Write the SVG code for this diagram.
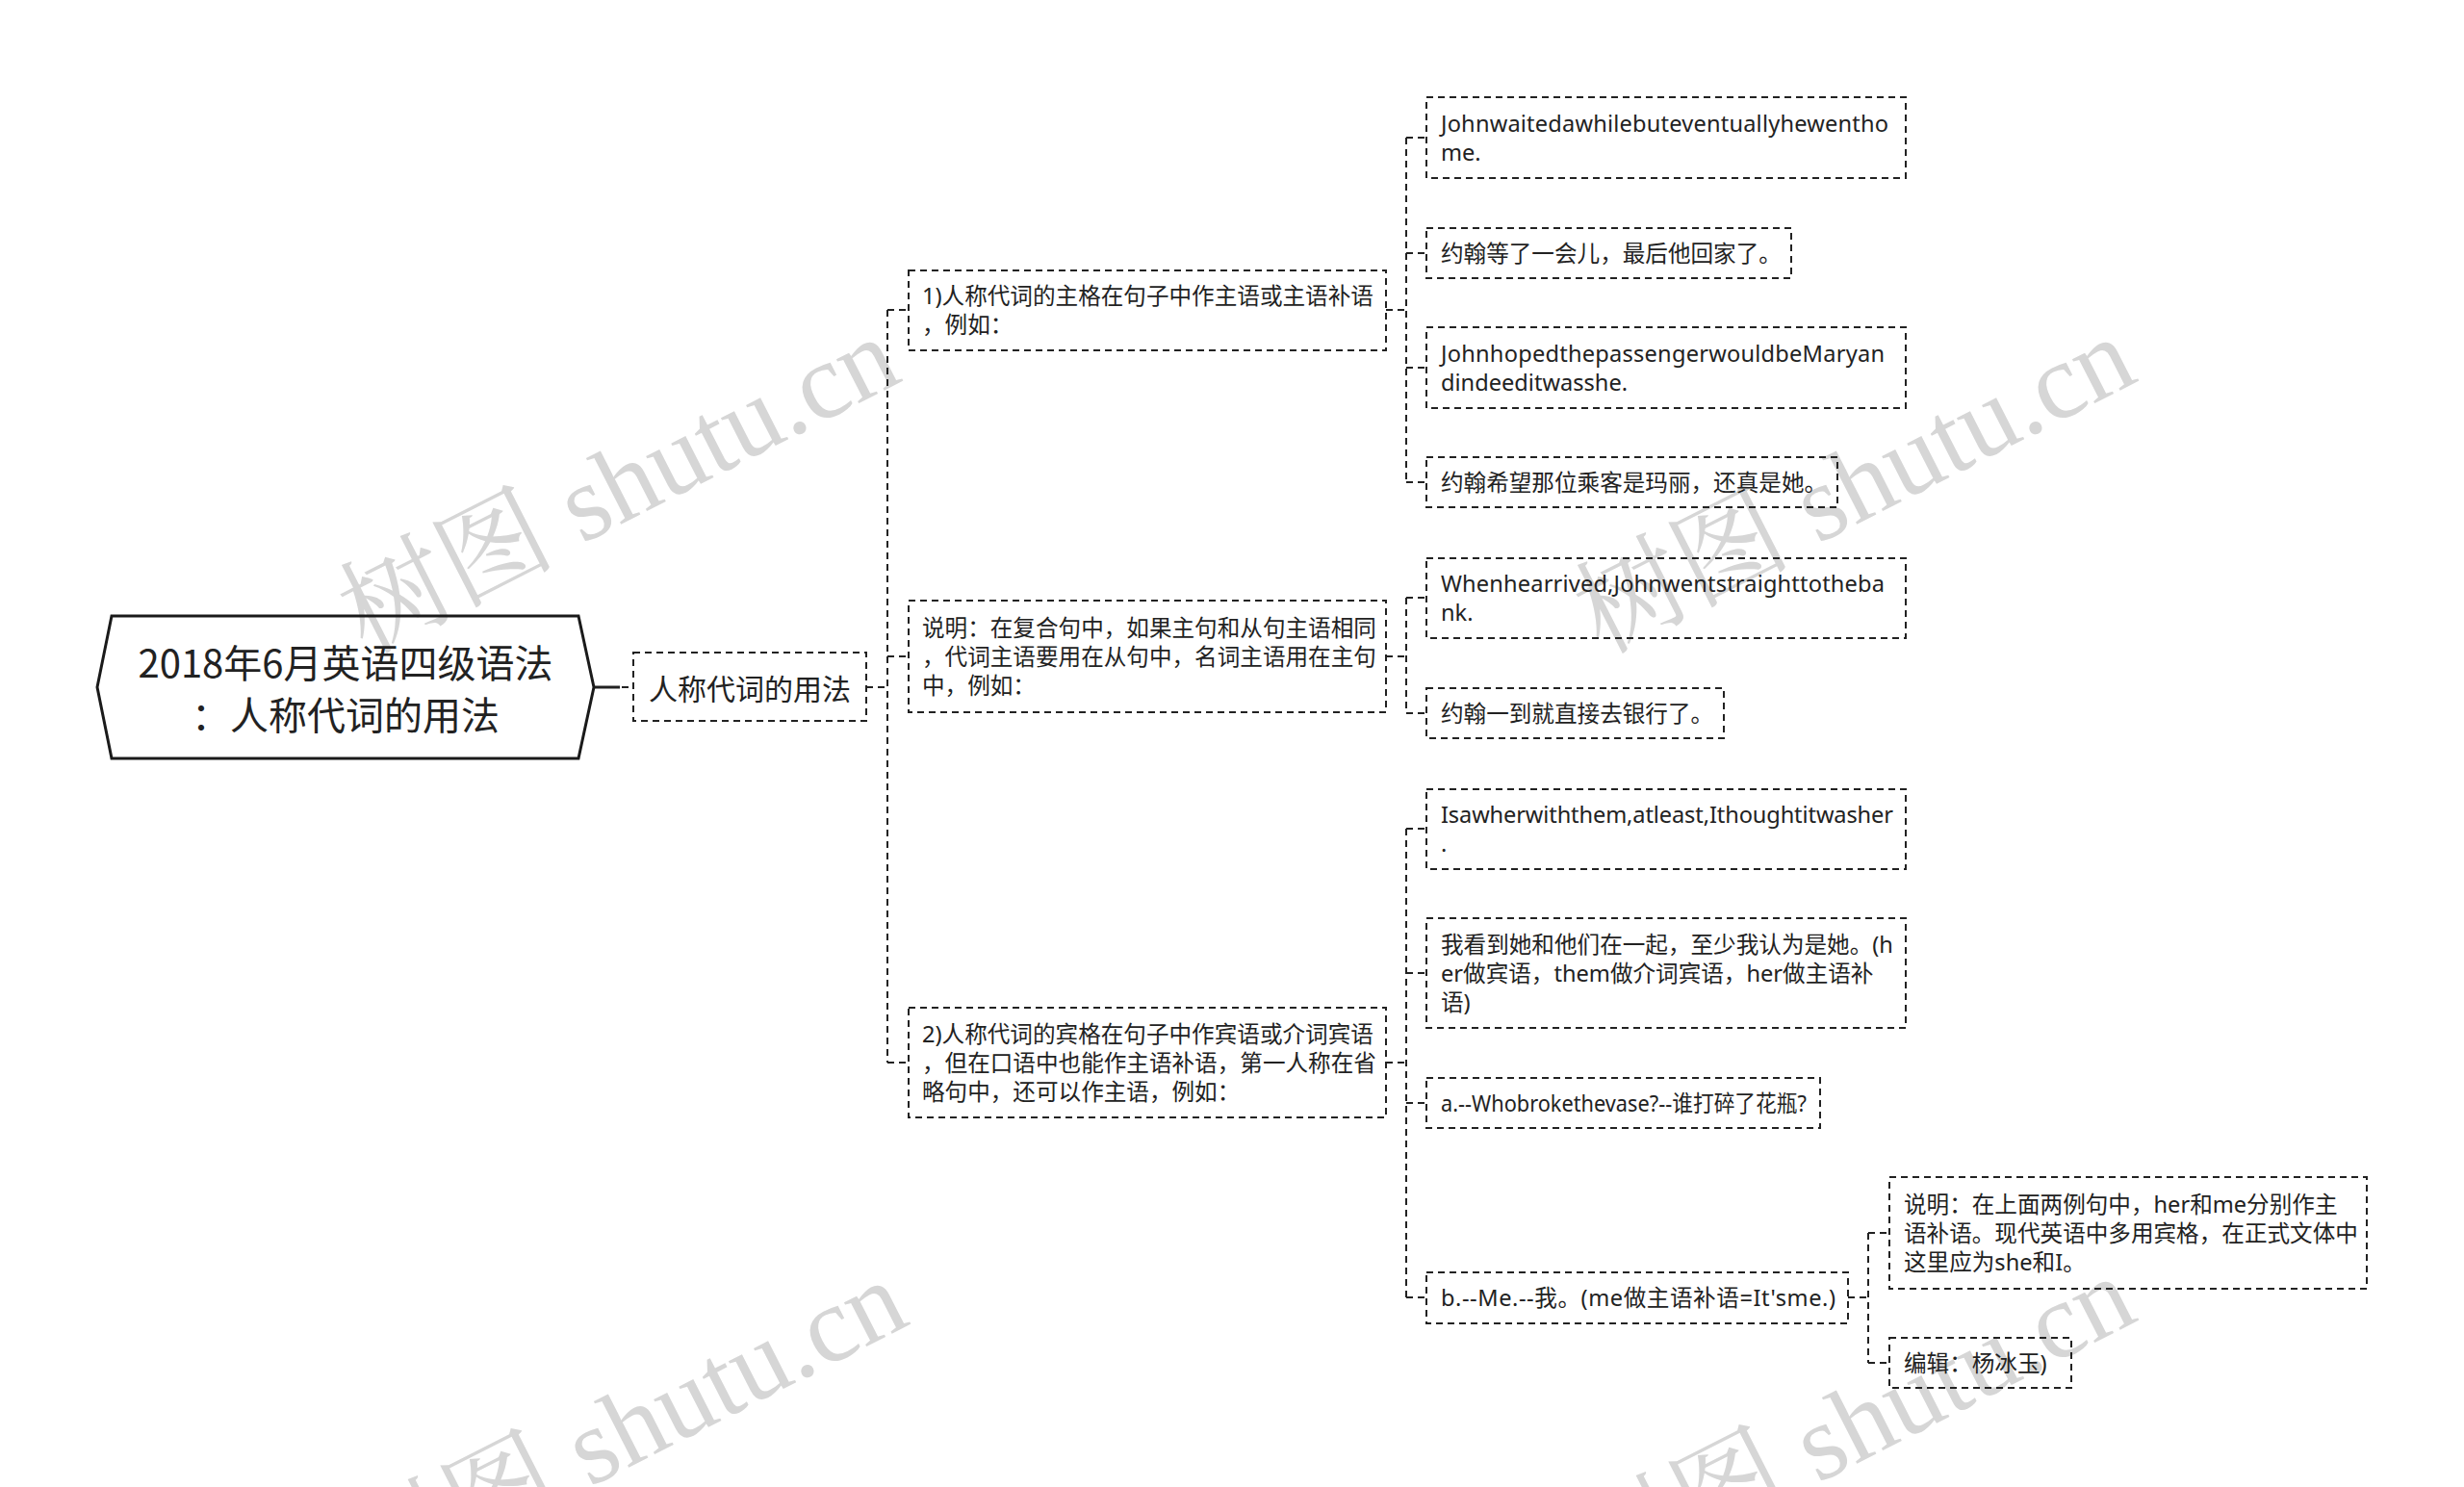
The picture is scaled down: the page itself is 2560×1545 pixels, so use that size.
<svg xmlns="http://www.w3.org/2000/svg" width="2560" height="1545" viewBox="0 0 2560 1545">
<style>
.wm{font-family:"Liberation Serif","Noto Serif CJK SC","Noto Sans CJK SC",serif;font-size:112px;fill:#d6d6d6}
.box{fill:none;stroke:#222;stroke-width:2;stroke-dasharray:7 5}
.con{fill:none;stroke:#222;stroke-width:2;stroke-dasharray:7 5}
.t{font-family:"Noto Sans","Noto Sans CJK SC",sans-serif;font-size:23.6px;fill:#222;dominant-baseline:central}
.t1{font-family:"Noto Sans CJK SC",sans-serif;font-size:30px;fill:#222;dominant-baseline:central}
.t0{font-family:"Noto Sans CJK SC",sans-serif;font-size:40px;fill:#222;dominant-baseline:central;text-anchor:middle}
</style>
<rect width="2560" height="1545" fill="#fff"/>
<g id="watermarks">
<text class="wm" transform="translate(380,680) rotate(-27)">树图 shutu.cn</text>
<text class="wm" transform="translate(1664,680) rotate(-27)">树图 shutu.cn</text>
<text class="wm" transform="translate(388,1660) rotate(-27)">树图 shutu.cn</text>
<text class="wm" transform="translate(1664,1656) rotate(-27)">树图 shutu.cn</text>
</g>
<g id="connectors">
<path d="M617,714 H644" fill="none" stroke="#222" stroke-width="3"/>
<path class="con" d="M646,714 H658"/>
<path class="con" d="M900,714 H922 M922,322 V1104 M922,322 H944 M922,682 H944 M922,1104 H944"/>
<path class="con" d="M1440,322 H1461 M1461,143 V501 M1461,143 H1482 M1461,263 H1482 M1461,382 H1482 M1461,501 H1482"/>
<path class="con" d="M1440,682 H1461 M1461,621 V741 M1461,621 H1482 M1461,741 H1482"/>
<path class="con" d="M1440,1104 H1461 M1461,861 V1348 M1461,861 H1482 M1461,1011 H1482 M1461,1146 H1482 M1461,1348 H1482"/>
<path class="con" d="M1920,1348 H1941 M1941,1281 V1416 M1941,1281 H1963 M1941,1416 H1963"/>
</g>
<g id="root">
<polygon points="101,714 116,640 601,640 617,714 601,788 116,788" fill="none" stroke="#1a1a1a" stroke-width="3"/>
<text class="t0" x="359" y="687">2018年6月英语四级语法</text>
<text class="t0" x="359" y="741">：人称代词的用法</text>
</g>
<g id="n-l1">
<rect class="box" x="658" y="678" width="242" height="71"/>
<text class="t1" x="674" y="714">人称代词的用法</text>
</g>
<g id="n-a">
<rect class="box" x="944" y="281" width="496" height="83"/>
<text class="t" x="958" y="307">1)人称代词的主格在句子中作主语或主语补语</text>
<text class="t" x="958" y="337">，例如：</text>
</g>
<g id="n-b">
<rect class="box" x="944" y="624" width="496" height="116"/>
<text class="t" x="958" y="652">说明：在复合句中，如果主句和从句主语相同</text>
<text class="t" x="958" y="682">，代词主语要用在从句中，名词主语用在主句</text>
<text class="t" x="958" y="712">中，例如：</text>
</g>
<g id="n-c">
<rect class="box" x="944" y="1047" width="496" height="114"/>
<text class="t" x="958" y="1074">2)人称代词的宾格在句子中作宾语或介词宾语</text>
<text class="t" x="958" y="1104">，但在口语中也能作主语补语，第一人称在省</text>
<text class="t" x="958" y="1134">略句中，还可以作主语，例如：</text>
</g>
<g id="n1">
<rect class="box" x="1482" y="101" width="498" height="84"/>
<text class="t" x="1497" y="128" textLength="465" lengthAdjust="spacing">Johnwaitedawhilebuteventuallyhewentho</text>
<text class="t" x="1497" y="158">me.</text>
</g>
<g id="n2">
<rect class="box" x="1482" y="237" width="379" height="52"/>
<text class="t" x="1497" y="263">约翰等了一会儿，最后他回家了。</text>
</g>
<g id="n3">
<rect class="box" x="1482" y="340" width="498" height="84"/>
<text class="t" x="1497" y="367" textLength="461" lengthAdjust="spacing">JohnhopedthepassengerwouldbeMaryan</text>
<text class="t" x="1497" y="397">dindeeditwasshe.</text>
</g>
<g id="n4">
<rect class="box" x="1482" y="475" width="427" height="52"/>
<text class="t" x="1497" y="501">约翰希望那位乘客是玛丽，还真是她。</text>
</g>
<g id="n5">
<rect class="box" x="1482" y="580" width="498" height="83"/>
<text class="t" x="1497" y="606" textLength="461" lengthAdjust="spacing">Whenhearrived,Johnwentstraighttotheba</text>
<text class="t" x="1497" y="636">nk.</text>
</g>
<g id="n6">
<rect class="box" x="1482" y="715" width="309" height="52"/>
<text class="t" x="1497" y="741">约翰一到就直接去银行了。</text>
</g>
<g id="n7">
<rect class="box" x="1482" y="820" width="498" height="83"/>
<text class="t" x="1497" y="846" textLength="470" lengthAdjust="spacing">Isawherwiththem,atleast,Ithoughtitwasher</text>
<text class="t" x="1497" y="876">.</text>
</g>
<g id="n8">
<rect class="box" x="1482" y="954" width="498" height="114"/>
<text class="t" x="1497" y="981">我看到她和他们在一起，至少我认为是她。(h</text>
<text class="t" x="1497" y="1011">er做宾语，them做介词宾语，her做主语补</text>
<text class="t" x="1497" y="1041">语)</text>
</g>
<g id="n9">
<rect class="box" x="1482" y="1120" width="409" height="52"/>
<text class="t" x="1497" y="1146" textLength="380" lengthAdjust="spacingAndGlyphs">a.--Whobrokethevase?--谁打碎了花瓶?</text>
</g>
<g id="n10">
<rect class="box" x="1482" y="1322" width="438" height="53"/>
<text class="t" x="1497" y="1348" textLength="410" lengthAdjust="spacing">b.--Me.--我。(me做主语补语=It'sme.)</text>
</g>
<g id="n11">
<rect class="box" x="1963" y="1223" width="496" height="116"/>
<text class="t" x="1978" y="1251">说明：在上面两例句中，her和me分别作主</text>
<text class="t" x="1978" y="1281">语补语。现代英语中多用宾格，在正式文体中</text>
<text class="t" x="1978" y="1311">这里应为she和I。</text>
</g>
<g id="n12">
<rect class="box" x="1963" y="1390" width="189" height="52"/>
<text class="t" x="1978" y="1416">编辑：杨冰玉)</text>
</g>
</svg>
